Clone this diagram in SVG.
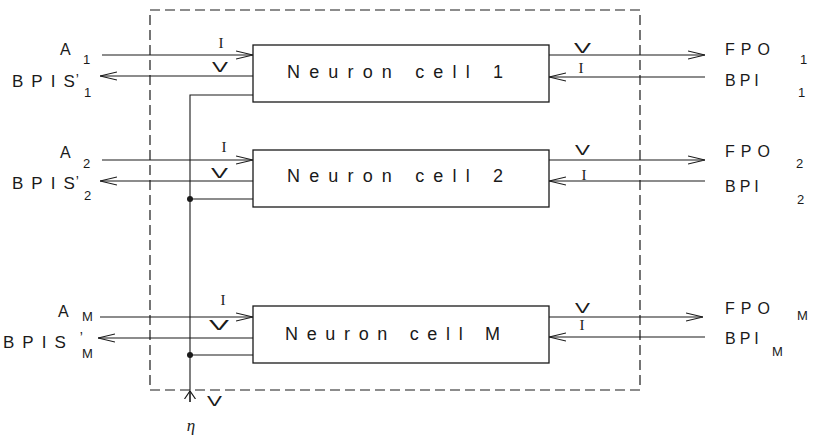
<svg xmlns="http://www.w3.org/2000/svg" width="816" height="436" viewBox="0 0 816 436">
<style>
  .ln{fill:none;stroke:#1a1a1a;stroke-width:1.1}
  .box{fill:#fff;stroke:#1a1a1a;stroke-width:1.3}
  .frame{fill:none;stroke:#1a1a1a;stroke-width:1.2;stroke-dasharray:10 5}
  .cell{font-family:"Liberation Sans",Arial,sans-serif;font-size:18px;fill:#1a1a1a}
  .lbl{font-family:"Liberation Sans",Arial,sans-serif;font-size:16px;fill:#1a1a1a}
  .bp{font-size:17px}
  .sub{font-size:13px;letter-spacing:0}
  .pr{letter-spacing:0;font-size:14px}
  .sig{font-family:"Liberation Serif","Times New Roman",serif;font-size:15px;fill:#1a1a1a;text-anchor:middle}
  .vv{font-family:"Liberation Sans",Arial,sans-serif;font-size:15px;fill:#1a1a1a}
  .eta{font-family:"Liberation Serif","Times New Roman",serif;font-style:italic;font-size:17px;fill:#1a1a1a;text-anchor:middle}
</style>
<defs>
  <marker id="ah" viewBox="0 0 17 10" refX="17" refY="5" markerWidth="17" markerHeight="10" markerUnits="userSpaceOnUse" orient="auto">
    <path d="M0,1 L17,5 L0,9" fill="none" stroke="#1a1a1a" stroke-width="1.2"/>
  </marker>
  <marker id="ahs" viewBox="0 0 8 12" refX="8" refY="6" markerWidth="8" markerHeight="12" markerUnits="userSpaceOnUse" orient="auto">
    <path d="M0,0.5 L8,6 L0,11.5" fill="none" stroke="#1a1a1a" stroke-width="1.2"/>
  </marker>
</defs>

<rect class="frame" x="150" y="10" width="490" height="380"/>

<g id="connectors">
  <path class="ln" d="M102,55 H253" marker-end="url(#ah)"/>
  <path class="ln" d="M253,76 H100" marker-end="url(#ah)"/>
  <path class="ln" d="M253,95 H190 V402"/>
  <path class="ln" d="M549,55 H705" marker-end="url(#ah)"/>
  <path class="ln" d="M705,77 H549" marker-end="url(#ah)"/>

  <path class="ln" d="M102,160 H253" marker-end="url(#ah)"/>
  <path class="ln" d="M253,181 H100" marker-end="url(#ah)"/>
  <path class="ln" d="M253,199 H190"/>
  <path class="ln" d="M549,160 H705" marker-end="url(#ah)"/>
  <path class="ln" d="M705,181 H549" marker-end="url(#ah)"/>

  <path class="ln" d="M100,317 H253" marker-end="url(#ah)"/>
  <path class="ln" d="M253,338 H98" marker-end="url(#ah)"/>
  <path class="ln" d="M253,355 H190"/>
  <path class="ln" d="M549,317 H703" marker-end="url(#ah)"/>
  <path class="ln" d="M705,337 H549" marker-end="url(#ah)"/>

  <circle cx="190" cy="199" r="3" fill="#1a1a1a"/>
  <circle cx="190" cy="355" r="3" fill="#1a1a1a"/>
  <path class="ln" d="M190,402 V391" marker-end="url(#ahs)"/>

  <text class="sig" x="221" y="48">I</text>
  <text class="vv" x="212" y="72" textLength="16" lengthAdjust="spacingAndGlyphs">V</text>
  <text class="vv" x="574" y="53" textLength="17" lengthAdjust="spacingAndGlyphs">V</text>
  <text class="sig" x="581" y="73">I</text>

  <text class="sig" x="224" y="152">I</text>
  <text class="vv" x="211" y="178" textLength="17" lengthAdjust="spacingAndGlyphs">V</text>
  <text class="vv" x="575" y="155" textLength="15" lengthAdjust="spacingAndGlyphs">V</text>
  <text class="sig" x="584" y="180">I</text>

  <text class="sig" x="223" y="305">I</text>
  <text class="vv" x="209" y="330" textLength="20" lengthAdjust="spacingAndGlyphs">V</text>
  <text class="vv" x="575" y="313" textLength="15" lengthAdjust="spacingAndGlyphs">V</text>
  <text class="sig" x="582" y="330">I</text>

  <text class="vv" x="207" y="406" textLength="15" lengthAdjust="spacingAndGlyphs">V</text>
  <text class="eta" x="191" y="431">η</text>
</g>

<g id="cell1">
  <rect class="box" x="253" y="45" width="296" height="57"/>
  <text class="cell" x="287" y="78" textLength="216">Neuron cell 1</text>
</g>
<g id="cell2">
  <rect class="box" x="253" y="150" width="296" height="57"/>
  <text class="cell" x="287" y="182" textLength="216">Neuron cell 2</text>
</g>
<g id="cellM">
  <rect class="box" x="253" y="306" width="296" height="57"/>
  <text class="cell" x="285" y="340" textLength="215">Neuron cell M</text>
</g>

<g id="in1">
  <text class="lbl" x="60" y="55">A<tspan class="sub" x="83" y="64">1</tspan></text>
</g>
<g id="bpis1">
  <text class="lbl bp" x="12" y="87"><tspan letter-spacing="8">BPI</tspan><tspan letter-spacing="0">S</tspan><tspan class="pr" dx="1" dy="-3">’</tspan><tspan class="sub" x="84" y="97">1</tspan></text>
</g>
<g id="in2">
  <text class="lbl" x="60" y="158">A<tspan class="sub" x="83" y="168">2</tspan></text>
</g>
<g id="bpis2">
  <text class="lbl bp" x="12" y="189"><tspan letter-spacing="8">BPI</tspan><tspan letter-spacing="0">S</tspan><tspan class="pr" dx="1" dy="-3">’</tspan><tspan class="sub" x="84" y="200">2</tspan></text>
</g>
<g id="inM">
  <text class="lbl" x="58" y="317">A<tspan class="sub" x="82" y="321">M</tspan></text>
</g>
<g id="bpisM">
  <text class="lbl bp" x="3" y="348"><tspan letter-spacing="8">BPI</tspan><tspan letter-spacing="0">S</tspan><tspan class="pr" dx="14" dy="-6">’</tspan><tspan class="sub" x="82" y="358">M</tspan></text>
</g>

<g id="fpo1">
  <text class="lbl" x="725" y="55" letter-spacing="6">FPO<tspan class="sub" x="800" y="64">1</tspan></text>
</g>
<g id="bpi1">
  <text class="lbl" x="725" y="86" letter-spacing="4">BPI<tspan class="sub" x="798" y="97">1</tspan></text>
</g>
<g id="fpo2">
  <text class="lbl" x="725" y="157" letter-spacing="6">FPO<tspan class="sub" x="796" y="168">2</tspan></text>
</g>
<g id="bpi2">
  <text class="lbl" x="725" y="192" letter-spacing="4">BPI<tspan class="sub" x="797" y="204">2</tspan></text>
</g>
<g id="fpoM">
  <text class="lbl" x="725" y="314" letter-spacing="6">FPO<tspan class="sub" x="797" y="320">M</tspan></text>
</g>
<g id="bpiM">
  <text class="lbl" x="725" y="344" letter-spacing="4">BPI<tspan class="sub" x="772" y="356">M</tspan></text>
</g>
</svg>
